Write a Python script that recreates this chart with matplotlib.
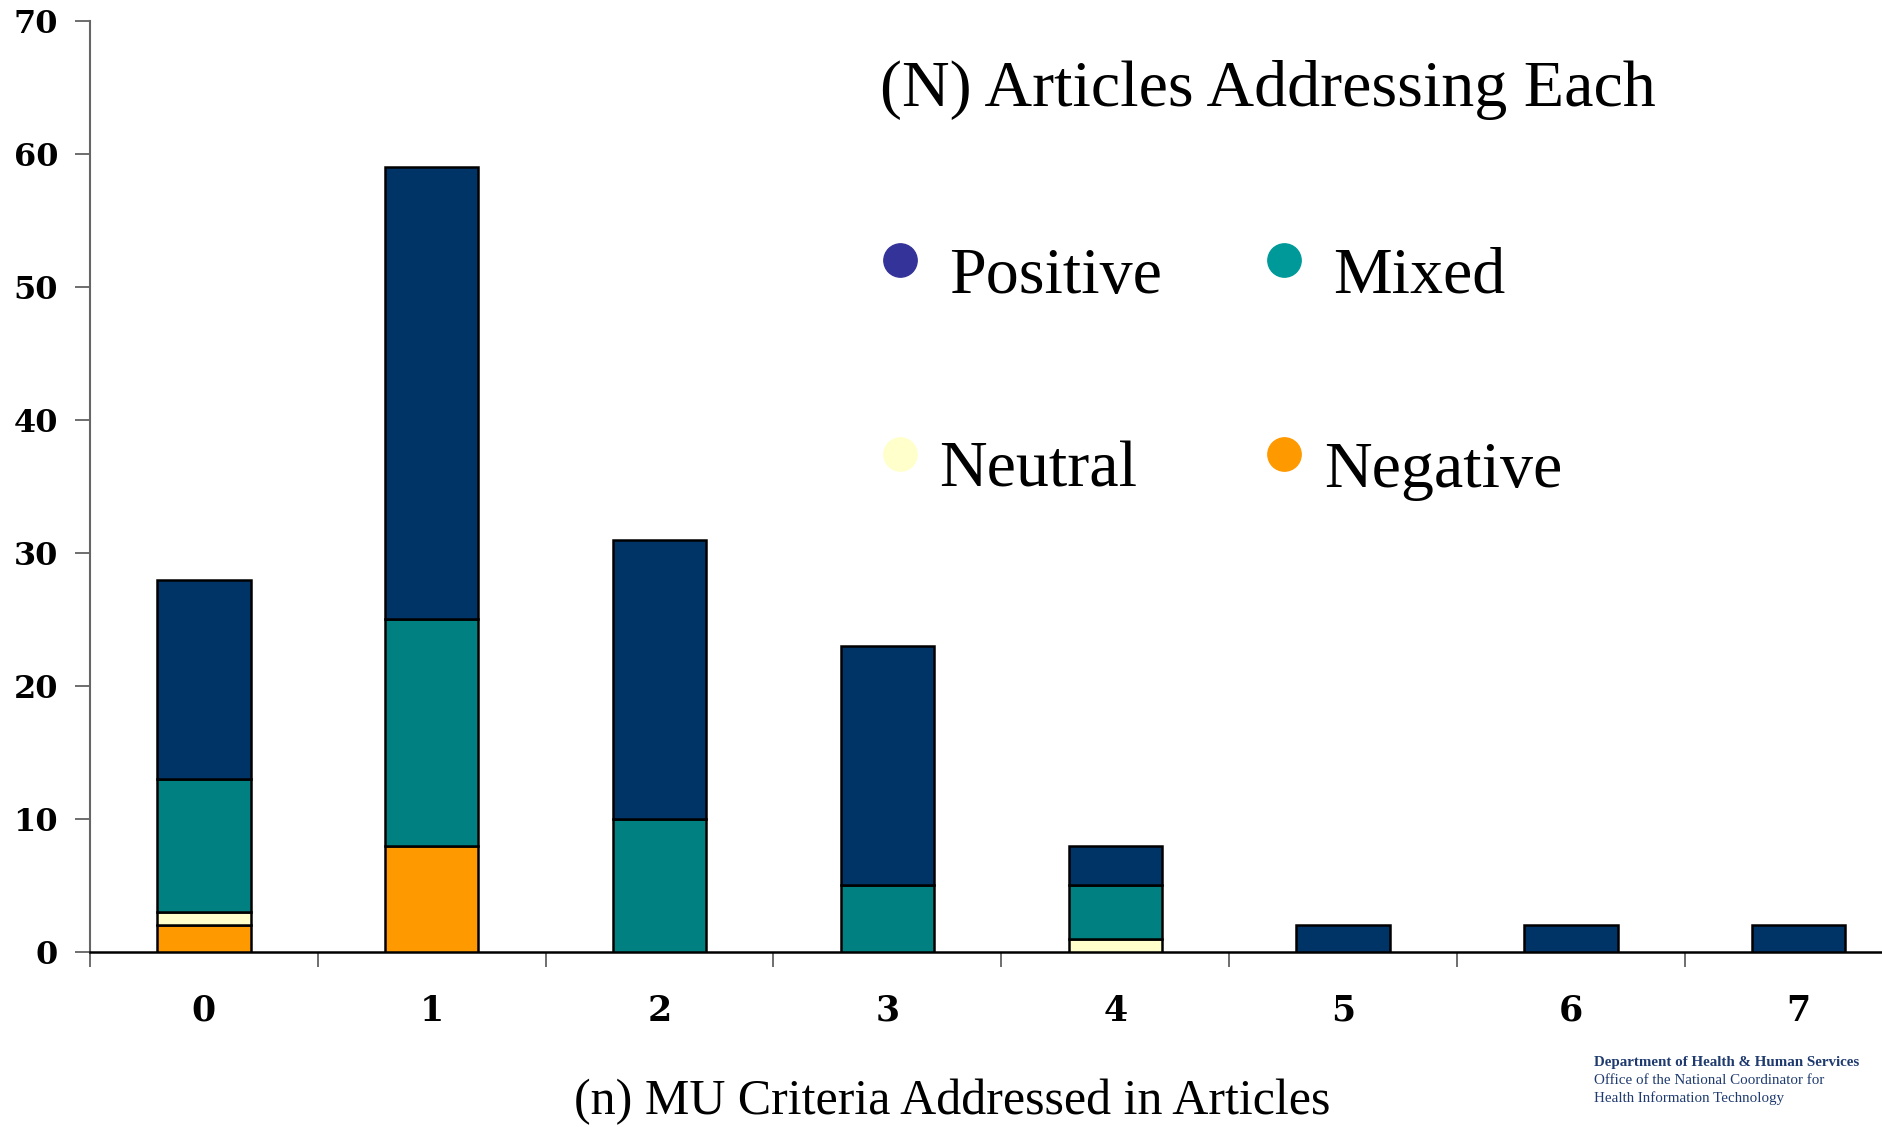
import numpy as np
import matplotlib.pyplot as plt

# data
criteria = ["0", "1", "2", "3", "4", "5", "6", "7"]
negative = [2, 8, 0, 0, 0, 0, 0, 0]
neutral = [1, 0, 0, 0, 1, 0, 0, 0]
mixed = [10, 17, 10, 5, 4, 0, 0, 0]
positive = [15, 34, 21, 18, 3, 2, 2, 2]

series_names = ["Positive", "Mixed", "Neutral", "Negative"]
bar_colors = {"Negative": "#FF9900", "Neutral": "#FFFFCC", "Mixed": "#008080", "Positive": "#003366"}
dot_colors = {"Positive": "#333399", "Mixed": "#009999", "Neutral": "#FFFFCC", "Negative": "#FF9900"}

fig = plt.figure(figsize=(18.83, 11.27), dpi=100)
ax = fig.add_axes([0.0478, 0.1553, 0.9522, 0.8261])

x = np.arange(len(criteria))
bottom = np.zeros(len(criteria))
for name, vals in [("Negative", negative), ("Neutral", neutral), ("Mixed", mixed), ("Positive", positive)]:
    v = np.array(vals, dtype=float)
    mask = v > 0
    ax.bar(x[mask], v[mask], bottom=bottom[mask], width=0.41, color=bar_colors[name],
           edgecolor="black", linewidth=1.8, zorder=3)
    bottom += v

ax.set_xlim(-0.5, 7.37)
ax.set_ylim(0, 70)
ax.set_yticks(range(0, 71, 10))
ax.set_yticklabels([str(t) for t in range(0, 71, 10)], fontfamily="DejaVu Serif",
                   fontweight="bold", fontsize=23)
ax.tick_params(axis="y", length=11, width=1.2, color="#555555", pad=12)

# x ticks sit on category boundaries, labels at the centres
ax.set_xticks(np.arange(-0.5, 7.4, 1.0))
ax.set_xticklabels([])
ax.set_xticks(x, minor=True)
ax.set_xticklabels(criteria, minor=True, fontfamily="DejaVu Serif", fontweight="bold", fontsize=25)
ax.tick_params(axis="x", which="major", length=11, width=1.2, color="#555555", direction="out")
ax.tick_params(axis="x", which="minor", length=0, pad=30)

for s in ["top", "right"]:
    ax.spines[s].set_visible(False)
ax.spines["left"].set_color("#666666")
ax.spines["left"].set_linewidth(1.5)
ax.spines["bottom"].set_color("black")
ax.spines["bottom"].set_linewidth(1.8)

# axis title sits a bit left of the axes centre on the slide
fig.text(0.5057, 0.0224, "(n) MU Criteria Addressed in Articles", fontfamily="Liberation Serif",
         fontsize=36, ha="center", va="center")

# title and legend drawn as free text like the slide
fig.text(0.4675, 0.920, "(N) Articles Addressing Each", fontfamily="Liberation Serif",
         fontsize=47.5, va="center", ha="left")

legend_pos = {"Positive": (0.478, 0.769, 0.504), "Mixed": (0.682, 0.769, 0.708),
              "Neutral": (0.478, 0.597, 0.499), "Negative": (0.682, 0.597, 0.703)}
for name in series_names:
    mx, my, tx = legend_pos[name]
    fig.add_artist(plt.Line2D([mx], [my], marker="o", markersize=24, color=dot_colors[name],
                              linestyle="none", transform=fig.transFigure))
    fig.text(tx, my - 0.015, name, fontfamily="Liberation Serif", fontsize=47.5,
             va="center", ha="left")

# agency footer
fig.text(0.8463, 0.054, "Department of Health & Human Services", fontfamily="Liberation Serif",
         fontweight="bold", fontsize=10.8, color="#1F3A6E")
fig.text(0.8463, 0.038, "Office of the National Coordinator for", fontfamily="Liberation Serif",
         fontsize=10.8, color="#1F3A6E")
fig.text(0.8463, 0.022, "Health Information Technology", fontfamily="Liberation Serif",
         fontsize=10.8, color="#1F3A6E")

fig.savefig("out.png", dpi=100)
